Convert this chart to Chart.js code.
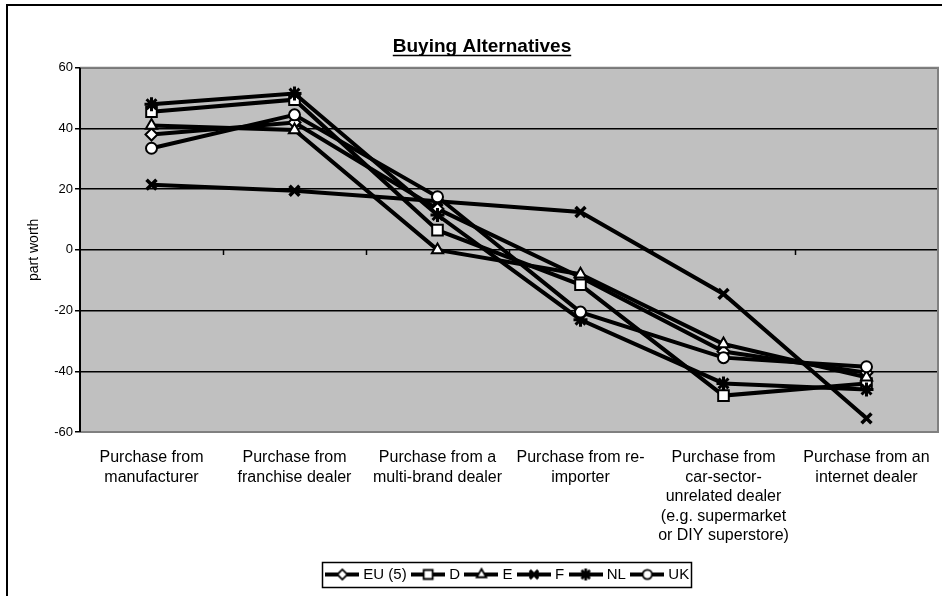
<!DOCTYPE html>
<html>
<head>
<meta charset="utf-8">
<title>Buying Alternatives</title>
<script src="https://cdn.jsdelivr.net/npm/chart.js@4.4.0/dist/chart.umd.min.js"></script>
<style>
  html, body { margin: 0; padding: 0; background: #fff; }
  #wrap { width: 942px; height: 596px; }
</style>
</head>
<body>
<div id="wrap"><canvas id="buyingChart" width="942" height="596"></canvas></div>
<script>
const FONT = "'Liberation Sans', Arial, sans-serif";

const categories = [
    ["Purchase from", "manufacturer"],
    ["Purchase from", "franchise dealer"],
    ["Purchase from a", "multi-brand dealer"],
    ["Purchase from re-", "importer"],
    ["Purchase from", "car-sector-", "unrelated dealer", "(e.g. supermarket", "or DIY superstore)"],
    ["Purchase from an", "internet dealer"],
];

const seriesNames = ["EU (5)", "D", "E", "F", "NL", "UK"];

const euValues = [38, 42, 13.5, -9, -33.5, -40.5];
const dValues = [45.5, 49.5, 6.5, -11.5, -48, -44];
const eValues = [41, 39.5, 0, -8, -31, -42];
const fValues = [21.5, 19.5, 16, 12.5, -14.5, -55.5];
const nlValues = [48, 51.5, 11.5, -23, -44, -46];
const ukValues = [33.5, 44.5, 17.5, -20.5, -35.5, -38.5];

const yTickValues = [-60, -40, -20, 0, 20, 40, 60];

const seriesValues = [euValues, dValues, eValues, fValues, nlValues, ukValues];

// marker shape, size and outline per series
const markers = [
    { style: "rectRot", radius: 6, border: 2 },
    { style: "rect", radius: 7.5, border: 2 },
    { style: "triangle", radius: 6.5, border: 2 },
    { style: "crossRot", radius: 7, border: 3.5 },
    { style: "star", radius: 7, border: 3 },
    { style: "circle", radius: 5.5, border: 2 },
];

// little line-with-marker pictures for the legend
function makeSample(marker) {
    const c = document.createElement("canvas");
    c.width = 34;
    c.height = 16;
    const g = c.getContext("2d");
    g.fillStyle = "#000";
    g.fillRect(0, 6, 34, 4);
    g.fillStyle = "#fff";
    g.strokeStyle = "#000";
    g.lineWidth = marker.border * 0.9;
    Chart.helpers.drawPoint(g, {
        pointStyle: marker.style,
        radius: marker.radius * 0.85,
        rotation: 0,
        borderWidth: g.lineWidth,
    }, 17, 8);
    return c;
}
const legendSamples = markers.map(makeSample);

const framePlugin = {
    id: "frame",
    beforeDraw(chart) {
        const { ctx, chartArea: a } = chart;
        ctx.save();
        ctx.fillStyle = "#fff";
        ctx.fillRect(0, 0, chart.width, chart.height);
        ctx.fillStyle = "#c0c0c0";
        ctx.fillRect(a.left, a.top, a.right - a.left, a.bottom - a.top);
        ctx.restore();
    },
    beforeDatasetsDraw(chart) {
        const { ctx, chartArea: a, scales } = chart;
        ctx.save();
        // category tick marks sit on the zero line
        const y0 = scales.y.getPixelForValue(0);
        ctx.strokeStyle = "#000";
        ctx.lineWidth = 1.5;
        ctx.beginPath();
        for (let i = 1; i < categories.length; i++) {
            const x = Math.round((scales.x.getPixelForValue(i - 1) + scales.x.getPixelForValue(i)) / 2) + 0.5;
            ctx.moveTo(x, y0);
            ctx.lineTo(x, y0 + 5);
        }
        ctx.stroke();
        // plot area outline
        ctx.strokeStyle = "#808080";
        ctx.lineWidth = 2;
        ctx.beginPath();
        ctx.moveTo(a.left, a.top);
        ctx.lineTo(a.right, a.top);
        ctx.lineTo(a.right, a.bottom);
        ctx.lineTo(a.left, a.bottom);
        ctx.stroke();
        ctx.strokeStyle = "#000";
        ctx.beginPath();
        ctx.moveTo(a.left, a.top);
        ctx.lineTo(a.left, a.bottom);
        ctx.stroke();
        ctx.restore();
    },
    afterDraw(chart) {
        const { ctx } = chart;
        ctx.save();
        // outer frame (left and top edges)
        ctx.strokeStyle = "#000";
        ctx.lineWidth = 2;
        ctx.beginPath();
        ctx.moveTo(7, chart.height);
        ctx.lineTo(7, 5);
        ctx.lineTo(chart.width, 5);
        ctx.stroke();

        // underline the title
        const t = chart.titleBlock;
        const titleFont = chart.options.plugins.title.font;
        ctx.font = `bold ${titleFont.size}px ${FONT}`;
        const w = ctx.measureText(chart.options.plugins.title.text).width;
        const cx = (t.left + t.right) / 2;
        const ty = t.top + t.options.padding.top + titleFont.size * 1.2 / 2 + 9;
        ctx.lineWidth = 1.5;
        ctx.beginPath();
        ctx.moveTo(cx - w / 2, ty);
        ctx.lineTo(cx + w / 2, ty);
        ctx.stroke();

        // box round the legend
        const boxes = chart.legend.legendHitBoxes;
        if (boxes && boxes.length) {
            const left = Math.min(...boxes.map((b) => b.left)) - 7;
            const right = Math.max(...boxes.map((b) => b.left + b.width)) + 2;
            const top = boxes[0].top - 5;
            const bottom = boxes[0].top + boxes[0].height + 5;
            ctx.lineWidth = 1.5;
            ctx.strokeRect(Math.round(left) + 0.5, Math.round(top) + 0.5, Math.round(right - left), Math.round(bottom - top));
        }
        ctx.restore();
    },
};

const ctx = document.getElementById("buyingChart").getContext("2d");

new Chart(ctx, {
    type: "line",
    data: {
        labels: categories,
        datasets: seriesNames.map((name, i) => ({
            label: name,
            data: seriesValues[i],
            order: seriesNames.length - i, // later series drawn on top
            borderColor: "#000",
            borderWidth: 4,
            tension: 0,
            fill: false,
            pointStyle: markers[i].style,
            pointRadius: markers[i].radius,
            pointBorderWidth: markers[i].border,
            pointBackgroundColor: "#fff",
            pointBorderColor: "#000",
        })),
    },
    options: {
        responsive: false,
        animation: false,
        layout: {
            autoPadding: false, // plot runs to the right edge
            padding: { left: 26, right: 4, top: 0, bottom: 4 },
        },
        plugins: {
            title: {
                display: true,
                text: "Buying Alternatives",
                color: "#000",
                font: { family: FONT, size: 19, weight: "bold" },
                padding: { top: 35, bottom: 10 },
            },
            legend: {
                position: "bottom",
                fullSize: false,
                labels: {
                    usePointStyle: true,
                    pointStyleWidth: 27,
                    padding: 8,
                    color: "#000",
                    font: { family: FONT, size: 15 },
                    generateLabels: (chart) =>
                        chart.data.datasets.map((ds, i) => ({
                            text: ds.label,
                            pointStyle: legendSamples[i],
                            datasetIndex: i,
                            hidden: false,
                            lineWidth: 0,
                            fillStyle: "transparent",
                            strokeStyle: "transparent",
                            fontColor: "#000",
                        })),
                },
            },
            tooltip: { enabled: false },
        },
        scales: {
            x: {
                offset: true,
                grid: { display: false, drawTicks: false },
                border: { display: false },
                ticks: {
                    autoSkip: false,
                    maxRotation: 0,
                    padding: 16,
                    color: "#000",
                    font: { family: FONT, size: 16, lineHeight: 1.22 },
                },
                afterFit: (scale) => {
                    scale.height = 127;
                    // labels fit inside their bands, no side padding needed
                    scale.paddingLeft = 0;
                    scale.paddingRight = 0;
                },
            },
            y: {
                min: -60,
                max: 60,
                afterBuildTicks: (scale) => {
                    scale.ticks = yTickValues.map((v) => ({ value: v }));
                },
                grid: {
                    color: "#000",
                    lineWidth: 1.5,
                    drawTicks: true,
                    tickLength: 5,
                    tickColor: "#000",
                },
                border: { color: "#000", width: 2 },
                ticks: {
                    padding: 2,
                    color: "#000",
                    font: { family: FONT, size: 13 },
                },
                title: {
                    display: true,
                    text: "part worth",
                    color: "#000",
                    font: { family: FONT, size: 14 },
                    padding: 0,
                },
                afterFit: (scale) => { scale.width = 54; },
            },
        },
    },
    plugins: [framePlugin],
});
</script>
</body>
</html>
